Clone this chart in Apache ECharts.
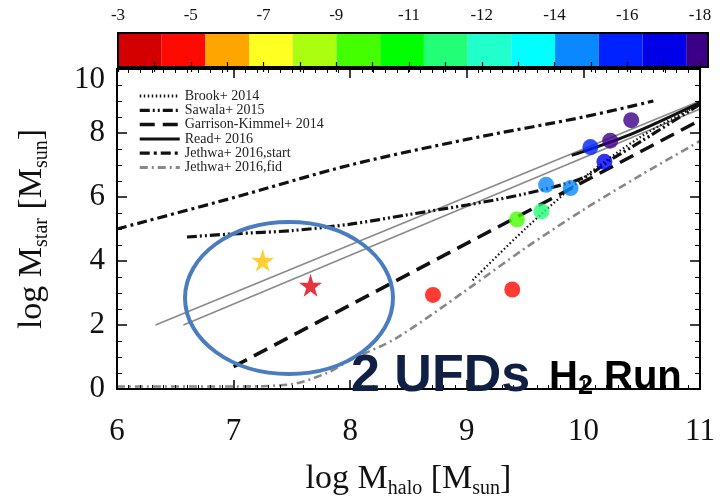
<!DOCTYPE html>
<html><head><meta charset="utf-8">
<script src="https://cdn.jsdelivr.net/npm/echarts@6/dist/echarts.min.js"></script>
<style>html,body{margin:0;padding:0;background:#fff}#c{width:725px;height:504px}</style>
</head><body><div id="c"></div>
<script>
// ---------------- data ----------------
const colorbarLabels = ['-3','-5','-7','-9','-11','-12','-14','-16','-18'];
const colorbarColors = ['#d40000','#ff0a00','#ffa500','#ffff22','#aaff10','#44ff00','#00ff00',
                        '#22ff77','#20ffcc','#00ffff','#0a88ff','#0022ff','#0000e8','#3c0088'];
const colorbarWidths = [1,1,1,1,1,1,1,1,1,1,1,1,1,0.5];

const brookX  = [9.05, 9.5, 10.0, 10.5, 11.0];
const brookY  = [3.4, 5.0, 6.6, 7.9, 8.9];
const sawalaX = [6.6, 7.0, 7.5, 8.0, 8.5, 9.0, 9.5, 10.0, 10.25, 10.5, 11.0];
const sawalaY = [4.75, 4.85, 4.95, 5.15, 5.45, 5.75, 6.1, 6.6, 7.2, 7.75, 8.9];
const gkX     = [7.0, 11.0];
const gkY     = [0.7, 8.4];
const readX   = [9.9, 10.4, 11.0];
const readY   = [7.3, 7.95, 8.95];
const jStartX = [6.0, 7.0, 8.0, 9.0, 10.0, 10.6];
const jStartY = [5.0, 5.98, 7.0, 7.8, 8.5, 9.0];
const jFidX   = [6.0, 7.0, 7.5, 7.8, 8.0, 8.4, 9.0, 9.5, 10.0, 10.5, 11.0];
const jFidY   = [0.08, 0.08, 0.15, 0.5, 0.9, 1.6, 3.1, 4.4, 5.6, 6.7, 7.75];
const greyAX  = [6.33, 11.0];
const greyAY  = [2.0, 9.0];
const greyBX  = [6.57, 11.0];
const greyBY  = [2.0, 8.75];
const dwarfX  = [8.71, 9.39, 9.43, 9.64, 9.68, 9.89, 10.06, 10.18, 10.23, 10.41];
const dwarfY  = [2.94, 3.11, 5.30, 5.55, 6.38, 6.28, 7.56, 7.10, 7.76, 8.40];
const dwarfBin = [1, 1, 5, 7, 10, 10, 11, 12, 13, 13];
const ufdX = [7.25, 7.66];
const ufdY = [4.02, 3.24];
const ufdColors = ['#ffc400', '#e0000e'];

const legendNames = ['Brook+ 2014','Sawala+ 2015','Garrison-Kimmel+ 2014','Read+ 2016','Jethwa+ 2016,start','Jethwa+ 2016,fid'];

// ---------------- chart ----------------
const SERIF = "'Liberation Serif','Times New Roman',serif";
const pts = (xs, ys) => xs.map((x, i) => [x, ys[i]]);
const chart = echarts.init(document.getElementById('c'), null, {renderer: 'canvas'});

const styles = {};
function lineSeries(name, xs, ys, color, width, type, smooth) {
  styles[name] = {color, width, type};
  return {
    name, type: 'line', xAxisIndex: 0, yAxisIndex: 0, data: pts(xs, ys),
    symbol: 'none', showSymbol: false, smooth: smooth || false, silent: true,
    lineStyle: {color, width, type}, z: 3
  };
}

const series = [
  lineSeries('greyA', greyAX, greyAY, '#8a8a8a', 1.6, 'solid'),
  lineSeries('greyB', greyBX, greyBY, '#8a8a8a', 1.6, 'solid'),
  lineSeries(legendNames[0], brookX, brookY, '#111', 2.2, [1.5, 2.5], 0.3),
  lineSeries(legendNames[1], sawalaX, sawalaY, '#111', 3.2, [10, 3, 2, 3, 2, 3], 0.3),
  lineSeries(legendNames[2], gkX, gkY, '#111', 3.5, [15, 8]),
  lineSeries(legendNames[3], readX, readY, '#111', 3, 'solid', 0.3),
  lineSeries(legendNames[4], jStartX, jStartY, '#111', 3.2, [10, 4, 3, 4], 0.3),
  lineSeries(legendNames[5], jFidX, jFidY, '#888', 2.6, [8, 4, 2, 4], 0.3),
  {
    name: 'dwarfs', type: 'scatter', xAxisIndex: 0, yAxisIndex: 0, symbolSize: 16, z: 5,
    data: dwarfX.map((x, i) => ({value: [x, dwarfY[i]], itemStyle: {color: colorbarColors[dwarfBin[i]]}}))
  },
  {
    name: 'ufds', type: 'scatter', xAxisIndex: 0, yAxisIndex: 0, symbolSize: 23, z: 6,
    symbol: 'path://M50,0 L61,35 L98,35 L68,57 L79,91 L50,70 L21,91 L32,57 L2,35 L39,35 Z',
    data: ufdX.map((x, i) => ({value: [x, ufdY[i]], itemStyle: {color: ufdColors[i]}}))
  }
];
colorbarWidths.forEach((w, i) => series.push({
  type: 'bar', xAxisIndex: 2, yAxisIndex: 2, stack: 'cb', data: [w],
  barWidth: '100%', silent: true, itemStyle: {color: colorbarColors[i]}
}));

const axisLineStyle = {color: '#000', width: 2};
const mainX = (pos, labels) => ({
  gridIndex: 0, type: 'value', position: pos, min: 6, max: 11, interval: 1,
  axisLine: {show: true, onZero: false, lineStyle: axisLineStyle},
  axisTick: {show: true, inside: true, length: 9, lineStyle: {color: '#000', width: 1.5}},
  minorTick: {show: true, splitNumber: 10, length: 4, lineStyle: {color: '#000', width: 1}},
  splitLine: {show: false},
  axisLabel: {show: labels, fontFamily: SERIF, fontSize: 31, color: '#111', margin: 27},
  z: 8
});
const mainY = (pos, labels) => ({
  gridIndex: 0, type: 'value', position: pos, min: 0, max: 10, interval: 2,
  axisLine: {show: true, onZero: false, lineStyle: axisLineStyle},
  axisTick: {show: true, inside: true, length: 10, lineStyle: {color: '#000', width: 1.5}},
  minorTick: {show: true, splitNumber: 4, length: 5, lineStyle: {color: '#000', width: 1}},
  splitLine: {show: false},
  axisLabel: {
    show: labels, fontFamily: SERIF, fontSize: 31, color: '#111', margin: 12,
    formatter: v => v === 10 ? '{t|10}' : (v === 0 ? '{b|0}' : String(v)),
    rich: {
      t: {fontFamily: SERIF, fontSize: 31, color: '#111', padding: [22, 0, 0, 0]},
      b: {fontFamily: SERIF, fontSize: 31, color: '#111', padding: [0, 0, 0, 0]}
    }
  },
  z: 8
});
const richTitle = {
  m: {fontFamily: SERIF, fontSize: 34, color: '#111', lineHeight: 40},
  s: {fontFamily: SERIF, fontSize: 20, color: '#111', lineHeight: 12, verticalAlign: 'bottom'}
};

const xMainBottom = mainX('bottom', true);
xMainBottom.name = '{m|log M}{s|halo}{m| [M}{s|sun}{m|]}';
xMainBottom.nameLocation = 'middle';
xMainBottom.nameGap = 70;
xMainBottom.nameTextStyle = {rich: richTitle};
const yMainLeft = mainY('left', true);
yMainLeft.name = '{m|log M}{s|star}{m| [M}{s|sun}{m|]}';
yMainLeft.nameLocation = 'middle';
yMainLeft.nameGap = 65;
yMainLeft.nameTextStyle = {rich: richTitle};

const option = {
  backgroundColor: '#ffffff',
  animation: false,
  grid: [
    {left: 117, right: 25, top: 69, bottom: 96},
    {left: 118, right: 17, top: 33, height: 34, show: true, borderColor: '#000', borderWidth: 2, backgroundColor: 'transparent', z: 10},
    {left: 118, right: 25, top: 33, height: 34}
  ],
  xAxis: [
    xMainBottom,
    mainX('top', false),
    {gridIndex: 1, type: 'value', min: 0, max: 13.5, show: false},
    {gridIndex: 2, type: 'value', position: 'top', min: 0, max: 8, interval: 1, z: 12,
      axisLine: {show: false}, splitLine: {show: false},
      axisTick: {show: true, inside: true, length: 5, lineStyle: {color: '#000', width: 1.2}},
      minorTick: {show: true, splitNumber: 2, length: 5, lineStyle: {color: '#000', width: 1.2}},
      axisLabel: {fontFamily: SERIF, fontSize: 17, color: '#111', margin: 9,
        formatter: v => colorbarLabels[Math.round(v)] || ''}},
    {gridIndex: 2, type: 'value', position: 'bottom', min: 0, max: 8, interval: 1, z: 12,
      axisLine: {show: false}, splitLine: {show: false}, axisLabel: {show: false},
      axisTick: {show: true, inside: true, length: 5, lineStyle: {color: '#000', width: 1.2}},
      minorTick: {show: true, splitNumber: 2, length: 5, lineStyle: {color: '#000', width: 1.2}}}
  ],
  yAxis: [
    yMainLeft,
    mainY('right', false),
    {gridIndex: 1, type: 'category', data: ['cb'], show: false},
    {gridIndex: 2, type: 'value', min: 0, max: 1, show: false}
  ],
  legend: {
    data: legendNames.map(n => ({name: n, lineStyle: {width: Math.max(styles[n].width, 3), type: styles[n].type, color: styles[n].color}})),
    orient: 'vertical', left: 133, top: 84, padding: 5,
    itemWidth: 40, itemHeight: 10, itemGap: 0.3, selectedMode: false,
    itemStyle: {opacity: 0},
    textStyle: {fontFamily: SERIF, fontSize: 14, color: '#222', lineHeight: 13}
  },
  graphic: [
    {type: 'ellipse', shape: {cx: 289, cy: 298, rx: 104, ry: 76}, z: 50,
      style: {fill: 'none', stroke: '#4a7dbf', lineWidth: 4}},
    {type: 'text', x: 351, y: 377, z: 50,
      style: {text: '2 UFDs', fill: '#0f2044', font: "bold 52px 'Liberation Sans', Arial, sans-serif", verticalAlign: 'middle'}},
    {type: 'text', x: 549, y: 378, z: 50,
      style: {text: '{a|H}{b|2}{a| Run}', verticalAlign: 'middle',
        rich: {
          a: {fill: '#000', font: "bold 40px 'Liberation Sans', Arial, sans-serif", lineHeight: 44},
          b: {fill: '#000', font: "bold 27px 'Liberation Sans', Arial, sans-serif", lineHeight: 22, verticalAlign: 'bottom'}
        }}}
  ],
  series
};
chart.setOption(option);
</script></body></html>
